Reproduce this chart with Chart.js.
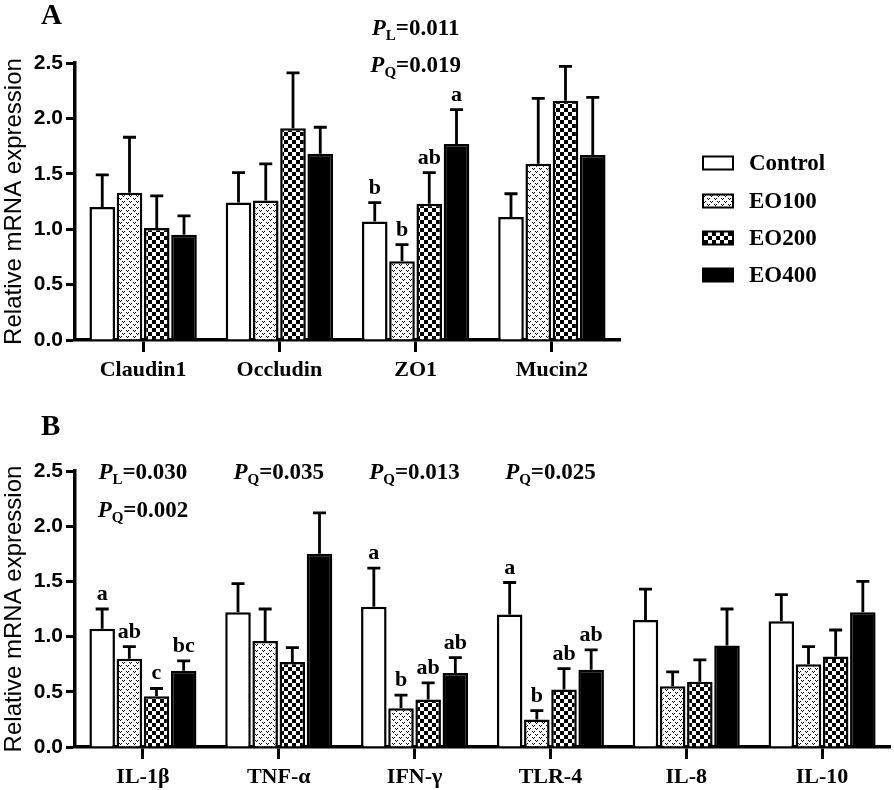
<!DOCTYPE html>
<html><head><meta charset="utf-8">
<script src="https://cdn.jsdelivr.net/npm/chart.js@4.4.0/dist/chart.umd.min.js"></script>
<style>
html,body{margin:0;padding:0;background:#fff;}
#wrapA{position:absolute;left:0;top:0;width:894px;height:395px;}
#wrapB{position:absolute;left:0;top:395px;width:894px;height:395px;}
</style></head><body>
<div id="wrapA"><canvas id="cA"></canvas></div>
<div id="wrapB"><canvas id="cB"></canvas></div>
<script>
// ---------- data ----------
const groups = ['Control', 'EO100', 'EO200', 'EO400'];
const yTicks = [0, 0.5, 1.0, 1.5, 2.0, 2.5];

// Panel A
const categoriesA = ['Claudin1', 'Occludin', 'ZO1', 'Mucin2'];
const controlA = [1.20, 1.24, 1.07, 1.11];
const eo100A   = [1.33, 1.26, 0.71, 1.59];
const eo200A   = [1.01, 1.91, 1.23, 2.16];
const eo400A   = [0.95, 1.68, 1.77, 1.67];
const controlErrA = [0.29, 0.27, 0.17, 0.21];
const eo100ErrA   = [0.50, 0.33, 0.15, 0.59];
const eo200ErrA   = [0.29, 0.50, 0.28, 0.31];
const eo400ErrA   = [0.17, 0.24, 0.31, 0.52];
const controlLetA = ['', '', 'b', ''];
const eo100LetA   = ['', '', 'b', ''];
const eo200LetA   = ['', '', 'ab', ''];
const eo400LetA   = ['', '', 'a', ''];
const pValuesA = [ {cat: 2, row: 0, sub: 'L', val: '0.011'}, {cat: 2, row: 1, sub: 'Q', val: '0.019'} ];

// Panel B
const categoriesB = ['IL-1β', 'TNF-α', 'IFN-γ', 'TLR-4', 'IL-8', 'IL-10'];
const controlB = [1.07, 1.22, 1.27, 1.20, 1.15, 1.14];
const eo100B   = [0.80, 0.96, 0.35, 0.25, 0.55, 0.75];
const eo200B   = [0.46, 0.77, 0.43, 0.52, 0.59, 0.82];
const eo400B   = [0.69, 1.75, 0.67, 0.70, 0.92, 1.22];
const controlErrB = [0.18, 0.26, 0.35, 0.29, 0.28, 0.24];
const eo100ErrB   = [0.11, 0.29, 0.12, 0.08, 0.13, 0.16];
const eo200ErrB   = [0.07, 0.13, 0.15, 0.19, 0.20, 0.24];
const eo400ErrB   = [0.09, 0.37, 0.14, 0.18, 0.33, 0.28];
const controlLetB = ['a', '', 'a', 'a', '', ''];
const eo100LetB   = ['ab', '', 'b', 'b', '', ''];
const eo200LetB   = ['c', '', 'ab', 'ab', '', ''];
const eo400LetB   = ['bc', '', 'ab', 'ab', '', ''];
const pValuesB = [
  {cat: 0, row: 0, sub: 'L', val: '0.030'}, {cat: 0, row: 1, sub: 'Q', val: '0.002'},
  {cat: 1, row: 0, sub: 'Q', val: '0.035'}, {cat: 2, row: 0, sub: 'Q', val: '0.013'},
  {cat: 3, row: 0, sub: 'Q', val: '0.025'}
];

// ---------- patterns ----------
function makeDots() {
  const c = document.createElement('canvas'); c.width = 7; c.height = 6;
  const g = c.getContext('2d'); g.fillStyle = '#fff'; g.fillRect(0, 0, 7, 6);
  g.fillStyle = '#000';
  const v = (ox, oy) => { g.fillRect(ox, oy, 1, 1); g.fillRect(ox + 2, oy, 1, 1); g.fillRect(ox + 1, oy + 1, 1, 1); };
  v(0, 0); v(3.5 | 0, 3);
  return g.createPattern(c, 'repeat');
}
function makeChecker() {
  const c = document.createElement('canvas'); c.width = 8; c.height = 8;
  const g = c.getContext('2d'); g.fillStyle = '#fff'; g.fillRect(0, 0, 8, 8);
  g.fillStyle = '#000'; g.fillRect(0, 0, 4, 4); g.fillRect(4, 4, 4, 4);
  return g.createPattern(c, 'repeat');
}
const fills = ['#ffffff', makeDots(), makeChecker(), '#000000'];

const SERIF = '"Liberation Serif", "Times New Roman", serif';
const SANS = '"Liberation Sans", Arial, sans-serif';

function drawP(ctx, cx, base, sub, val) {
  const f1 = 'italic bold 23px ' + SERIF, f2 = 'bold 15px ' + SERIF, f3 = 'bold 23px ' + SERIF;
  ctx.font = f1; const w1 = ctx.measureText('P').width;
  ctx.font = f2; const w2 = ctx.measureText(sub).width;
  ctx.font = f3; const w3 = ctx.measureText('=' + val).width;
  let x = cx - (w1 + w2 + w3) / 2;
  ctx.textAlign = 'left'; ctx.textBaseline = 'alphabetic'; ctx.fillStyle = '#000';
  ctx.font = f1; ctx.fillText('P', x, base); x += w1;
  ctx.font = f2; ctx.fillText(sub, x, base + 5); x += w2;
  ctx.font = f3; ctx.fillText('=' + val, x, base);
}

const annotPlugin = {
  id: 'annot',
  afterDatasetsDraw(chart, args, o) {
    const ctx = chart.ctx, ys = chart.scales.y, xs = chart.scales.x;
    ctx.save();
    chart.data.datasets.forEach((ds, i) => {
      const meta = chart.getDatasetMeta(i);
      meta.data.forEach((bar, j) => {
        const top = ys.getPixelForValue(ds.data[j] + ds.err[j]);
        ctx.strokeStyle = '#000'; ctx.lineWidth = 2.8; ctx.lineCap = 'butt';
        ctx.beginPath(); ctx.moveTo(bar.x, bar.y); ctx.lineTo(bar.x, top);
        ctx.moveTo(bar.x - 6.5, top); ctx.lineTo(bar.x + 6.5, top); ctx.stroke();
        const L = ds.letters[j];
        if (L) {
          ctx.font = 'bold 22px ' + SERIF; ctx.fillStyle = '#000';
          ctx.textAlign = 'center'; ctx.textBaseline = 'alphabetic';
          ctx.fillText(L, bar.x, top - 9);
        }
      });
    });
    const area = chart.chartArea;
    o.pvals.forEach(p => {
      const cx = xs.getPixelForValue(p.cat);
      drawP(ctx, cx, area.top + o.pBase[p.row], p.sub, p.val);
    });
    ctx.font = 'bold 29px ' + SERIF; ctx.fillStyle = '#000'; ctx.textAlign = 'left'; ctx.textBaseline = 'alphabetic';
    ctx.fillText(o.panel, 41, o.panelY);
    if (o.legend) {
      const rows = [163, 201, 238, 275];
      chart.data.datasets.forEach((ds, i) => {
        const yc = rows[i];
        ctx.fillStyle = ds.backgroundColor; ctx.fillRect(703, yc - 6.5, 30, 13);
        ctx.strokeStyle = '#000'; ctx.lineWidth = 2; ctx.strokeRect(703, yc - 6.5, 30, 13);
        ctx.fillStyle = '#000'; ctx.font = 'bold 23px ' + SERIF; ctx.textAlign = 'left'; ctx.textBaseline = 'middle';
        ctx.fillText(ds.label, 749, yc + 1);
      });
    }
    ctx.restore();
  }
};

function makeChart(id, cats, series, errs, lets, opt) {
  const datasets = groups.map((g, i) => ({
    label: g, data: series[i], err: errs[i], letters: lets[i],
    backgroundColor: fills[i], borderColor: '#000', borderWidth: 2.5, borderSkipped: 'start',
    categoryPercentage: 0.8, barPercentage: 0.94
  }));
  return new Chart(document.getElementById(id), {
    type: 'bar',
    data: { labels: cats, datasets },
    plugins: [annotPlugin],
    options: {
      responsive: true, maintainAspectRatio: false, animation: false, devicePixelRatio: 1,
      layout: { padding: opt.padding },
      plugins: { legend: { display: false }, tooltip: { enabled: false },
        annot: { pvals: opt.pvals, pBase: opt.pBase, panel: opt.panel, panelY: opt.panelY, legend: opt.legend } },
      scales: {
        x: {
          grid: { offset: false, drawOnChartArea: false, drawTicks: true, tickLength: 12, tickWidth: 3, tickColor: '#000' },
          border: { display: true, color: '#000', width: 3.5 },
          ticks: { color: '#000', font: { family: SERIF, size: 22, weight: 'bold' }, padding: 5, maxRotation: 0 },
          afterFit(s) { s.height = 42; }
        },
        y: {
          min: 0, max: 2.5,
          afterBuildTicks(s) { s.ticks = yTicks.map(v => ({ value: v })); },
          grid: { drawOnChartArea: false, drawTicks: true, tickLength: 9, tickWidth: 3, tickColor: '#000' },
          border: { display: true, color: '#000', width: 3.5 },
          ticks: { color: '#000', font: { family: SANS, size: 21, weight: 'bold' }, padding: 3,
                   callback: v => Number(v).toFixed(1) },
          title: { display: true, text: 'Relative mRNA expression', color: '#000',
                   font: { family: SANS, size: 24, weight: 'normal' }, padding: 0 },
          afterFit(s) { s.width = 75; }
        }
      }
    }
  });
}

makeChart('cA', categoriesA,
  [controlA, eo100A, eo200A, eo400A],
  [controlErrA, eo100ErrA, eo200ErrA, eo400ErrA],
  [controlLetA, eo100LetA, eo200LetA, eo400LetA],
  { padding: { top: 63, left: 0, right: 274, bottom: 13 }, pvals: pValuesA, pBase: [-28, 9], panel: 'A', panelY: 24, legend: true });

makeChart('cB', categoriesB,
  [controlB, eo100B, eo200B, eo400B],
  [controlErrB, eo100ErrB, eo200ErrB, eo400ErrB],
  [controlLetB, eo100LetB, eo200LetB, eo400LetB],
  { padding: { top: 76, left: 0, right: 4, bottom: 1 }, pvals: pValuesB, pBase: [8, 46], panel: 'B', panelY: 40, legend: false });
</script>
</body></html>
